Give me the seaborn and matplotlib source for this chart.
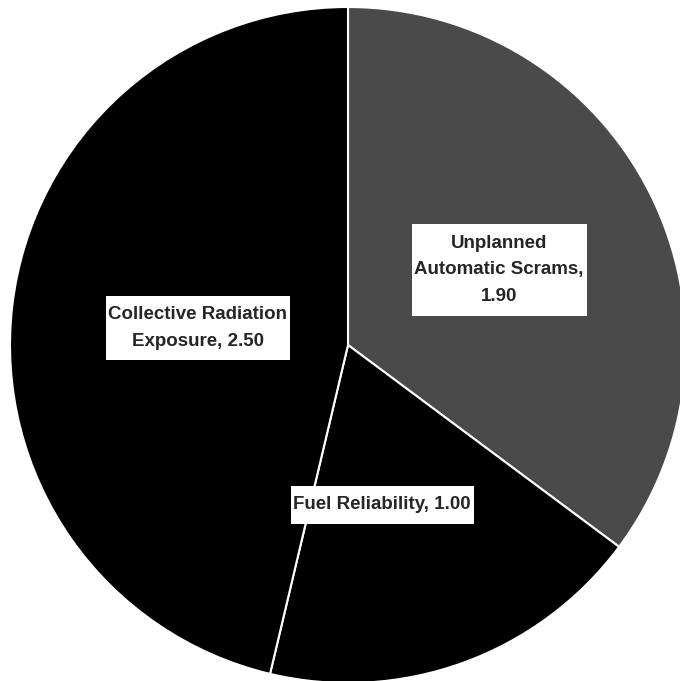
import numpy as np
import pandas as pd
import seaborn as sns
import matplotlib.pyplot as plt
from matplotlib.path import Path

sns.set_style("white")
plt.rcParams['font.family'] = ['Liberation Sans', 'DejaVu Sans']

categories = ["Unplanned\nAutomatic Scrams", "Fuel Reliability", "Collective Radiation\nExposure"]
values = [1.90, 1.00, 2.50]
colors = ["#4a4a4a", "#000000", "#000000"]

# separator between name and value in each label
seps = [",\n", ", ", ", "]
# where each label box sits (data coords, radius 1 pie)
label_pos = [(0.447, 0.222), (0.101, -0.473), (-0.444, 0.050)]

df = pd.DataFrame({"cat": categories, "val": values})


def label_box(x0, y0, width, height, mutation_size):
    # white box, thin on the sides, deeper top and bottom
    px = 0.15 * mutation_size
    py = 0.55 * mutation_size
    x0, y0 = x0 - px, y0 - py
    x1, y1 = x0 + width + 2 * px, y0 + height + 2 * py
    return Path([(x0, y0), (x1, y0), (x1, y1), (x0, y1), (x0, y0)], closed=True)


fig = plt.figure(figsize=(6.8, 6.81), dpi=100)
ax = fig.add_axes([10/680, -2/681, 676/680, 676/681])

ax.pie(df["val"], colors=colors, startangle=90, counterclock=False,
       wedgeprops=dict(edgecolor="white", linewidth=1.5))

for (x, y), cat, v, s in zip(label_pos, df["cat"], df["val"], seps):
    ax.text(x, y, f"{cat}{s}{v:.2f}", ha="center", va="center",
            fontsize=13.5, fontweight="bold", linespacing=1.75,
            bbox=dict(boxstyle=label_box, fc="white", ec="none"))

ax.set_xlim(-1, 1)
ax.set_ylim(-1, 1)
ax.set_aspect("auto")
ax.axis("off")

fig.savefig("out.png", dpi=100)
